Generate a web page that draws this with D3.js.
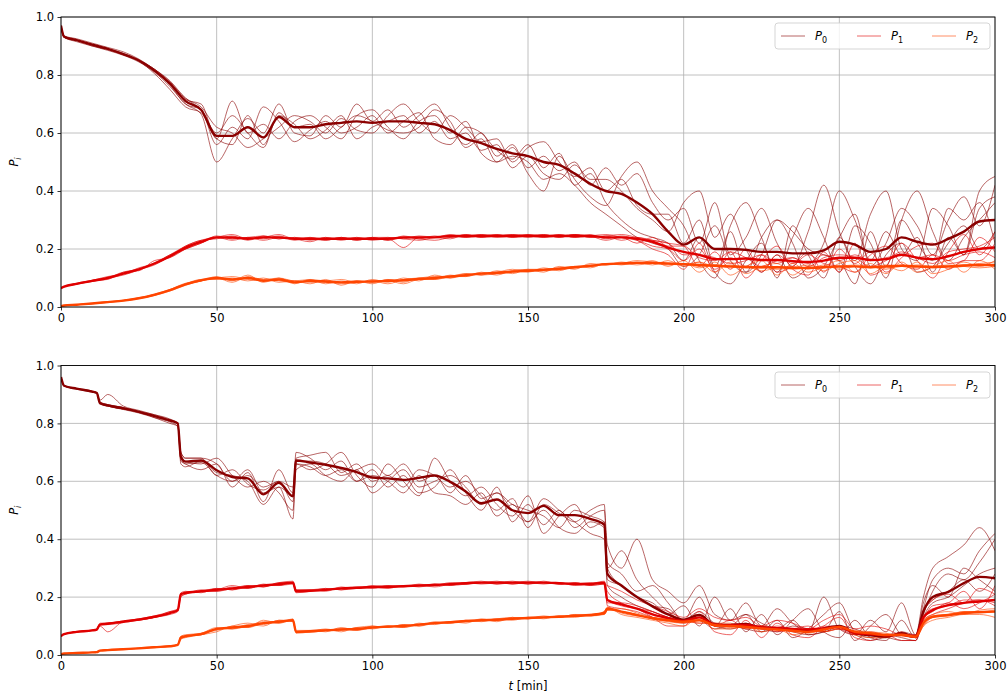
<!DOCTYPE html>
<html><head><meta charset="utf-8">
<script src="https://cdn.jsdelivr.net/npm/d3@7"></script>
<style>body{margin:0;background:#fff}svg{display:block}text{font-family:"DejaVu Sans",sans-serif}</style>
</head><body><svg id="c" width="1007" height="694"></svg>
<script>
// ---------- DATA ----------
const xTicks = [0, 50, 100, 150, 200, 250, 300];
const yTicks = [0.0, 0.2, 0.4, 0.6, 0.8, 1.0];
const seriesNames = ["P0", "P1", "P2"];

const tTop = [0,1,5,10,15,20,25,30,35,40, 45,50,55,60,65,70,75,80,85,90, 95,100,105,110,115,120,125,130,135,140,
  145,150,155,160,165,170,175,180,185,190, 195,200,205,210,215,220,225,230,235,240, 245,250,255,260,265,270,275,280,285,290, 295,300];
const tBot = [0,1,5,10,11.5,12.5,15,20,25,30, 35,37.5,38.5,40,45,50,55,60,65,70, 74.5,75.5,80,85,90,95,100,105,110,115,
  120,125,130,135,140,145,150,155,160,165, 170,174.5,175.5,180,185,190,195,200,205,210, 215,220,225,230,235,240,245,250,255,260,
  265,270,274.5,277,280,285,290,295,300];

// top panel, P0
const topP0Mean = [.97,.932,.92,.905,.89,.872,.85,.815,.77,.71, .68,.59,.59,.62,.585,.655,.62,.62,.63,.635,
  .64,.635,.64,.64,.635,.63,.61,.58,.565,.545, .53,.52,.50,.49,.46,.425,.40,.39,.36,.32,
  .26,.215,.24,.20,.20,.197,.19,.19,.185,.185, .195,.225,.215,.19,.20,.24,.225,.215,.235,.26, .295,.30];
const topP0Runs = [
 [.97,.93,.915,.90,.885,.868,.845,.81,.76,.70, .665,.50,.58,.65,.60,.70,.60,.59,.66,.62, .70,.64,.68,.62,.66,.70,.62,.56,.60,.52,
  .56,.48,.52,.47,.50,.42,.48,.42,.46,.36, .30,.34,.22,.36,.18,.24,.34,.22,.14,.26, .42,.26,.16,.32,.40,.20,.16,.34,.28,.18, .40,.45],
 [.97,.935,.925,.91,.895,.88,.855,.82,.78,.72, .69,.62,.60,.55,.58,.62,.66,.64,.60,.65, .61,.60,.66,.70,.64,.60,.66,.62,.57,.58,
  .50,.55,.57,.50,.45,.48,.40,.44,.35,.32, .32,.22,.30,.14,.26,.12,.18,.30,.22,.10, .14,.24,.32,.14,.22,.34,.28,.18,.30,.38, .28,.42],
 [.97,.93,.92,.905,.89,.87,.85,.82,.775,.715, .70,.58,.71,.60,.63,.58,.64,.66,.62,.58, .66,.68,.62,.58,.64,.66,.60,.64,.53,.50,
  .55,.46,.40,.52,.44,.38,.35,.45,.50,.40, .34,.28,.16,.10,.28,.36,.24,.12,.24,.34, .24,.12,.28,.22,.10,.30,.40,.26,.16,.24, .30,.36],
 [.97,.93,.92,.90,.89,.875,.85,.815,.765,.70, .68,.56,.62,.58,.69,.64,.57,.61,.64,.60, .62,.66,.60,.64,.67,.58,.56,.62,.60,.54,
  .51,.56,.48,.53,.42,.46,.36,.30,.26,.24, .22,.16,.24,.12,.08,.16,.22,.10,.28,.18, .10,.24,.14,.08,.18,.22,.12,.14,.22,.28, .20,.26],
 [.97,.93,.92,.905,.89,.872,.848,.805,.75,.69, .67,.58,.56,.66,.56,.66,.63,.58,.61,.66, .58,.62,.64,.66,.60,.64,.58,.60,.54,.56,
  .48,.52,.46,.44,.49,.44,.44,.40,.34,.30, .26,.36,.40,.24,.32,.20,.12,.18,.10,.14, .22,.40,.30,.16,.26,.18,.24,.12,.24,.18, .34,.38],
 [.97,.935,.92,.905,.89,.87,.85,.82,.775,.72, .68,.60,.66,.60,.55,.67,.62,.63,.58,.62, .66,.64,.61,.60,.62,.68,.64,.55,.58,.50,
  .52,.50,.44,.46,.42,.36,.32,.28,.24,.22, .20,.14,.18,.28,.16,.12,.24,.30,.26,.20, .18,.16,.08,.26,.14,.30,.22,.16,.34,.30, .36,.22]
];
// top panel, P1
const topP1Mean = [.065,.07,.08,.09,.10,.115,.13,.15,.175,.205, .225,.24,.24,.235,.24,.24,.235,.235,.235,.235,
  .235,.235,.235,.24,.24,.24,.245,.245,.245,.245, .245,.245,.245,.245,.245,.245,.24,.24,.235,.225,
  .205,.19,.18,.165,.165,.167,.162,.162,.158,.155, .16,.17,.17,.162,.165,.18,.17,.165,.175,.19, .20,.205];
const topP1Runs = [
 [.065,.07,.08,.088,.10,.115,.13,.148,.172,.20, .22,.245,.235,.24,.235,.245,.23,.24,.23,.24, .23,.24,.23,.245,.235,.245,.24,.25,.24,.25,
  .24,.25,.24,.25,.24,.25,.235,.245,.23,.20, .18,.13,.22,.12,.19,.10,.16,.21,.13,.11, .19,.12,.22,.11,.14,.22,.16,.10,.19,.25, .18,.26],
 [.065,.07,.082,.092,.10,.11,.128,.152,.18,.21, .23,.235,.245,.23,.245,.235,.24,.23,.24,.23, .24,.23,.235,.205,.24,.24,.25,.24,.25,.245,
  .25,.24,.25,.24,.25,.24,.245,.23,.24,.23, .22,.21,.14,.19,.13,.20,.12,.18,.15,.19, .12,.20,.15,.19,.12,.17,.21,.22,.15,.16, .24,.19],
 [.065,.07,.078,.09,.10,.12,.125,.16,.17,.20, .225,.24,.25,.235,.24,.25,.235,.24,.235,.24, .235,.24,.23,.24,.235,.23,.24,.245,.25,.24,
  .245,.25,.245,.25,.24,.245,.25,.24,.23,.21, .20,.16,.20,.13,.17,.14,.18,.12,.14,.18, .15,.14,.12,.18,.21,.15,.13,.18,.13,.16, .16,.22],
 [.065,.07,.08,.09,.095,.12,.13,.145,.175,.21, .23,.24,.23,.24,.23,.24,.235,.225,.24,.235, .24,.235,.24,.235,.23,.24,.245,.24,.245,.25,
  .24,.245,.25,.24,.25,.245,.23,.24,.22,.24, .21,.21,.17,.16,.19,.17,.14,.16,.17,.14, .17,.18,.17,.14,.16,.19,.17,.15,.19,.20, .21,.24],
 [.065,.07,.08,.092,.105,.115,.135,.15,.18,.20, .22,.24,.235,.24,.245,.235,.24,.235,.23,.24, .23,.24,.24,.235,.245,.24,.235,.25,.24,.245,
  .25,.245,.24,.245,.25,.24,.245,.25,.24,.23, .22,.18,.18,.17,.15,.16,.18,.15,.17,.15, .18,.16,.18,.16,.17,.18,.17,.18,.16,.18, .19,.17]
];
// top panel, P2
const topP2Mean = [.003,.005,.008,.012,.017,.022,.03,.042,.058,.078, .092,.10,.095,.10,.09,.095,.085,.09,.088,.085,
  .087,.088,.09,.092,.097,.10,.105,.11,.115,.118, .122,.125,.128,.132,.137,.142,.148,.15,.152,.152,
  .15,.148,.145,.142,.14,.138,.137,.137,.135,.135, .137,.14,.14,.137,.14,.142,.14,.138,.14,.143, .145,.145];
const topP2Runs = [
 [.003,.005,.008,.012,.017,.022,.03,.04,.055,.075, .09,.105,.09,.11,.085,.10,.08,.095,.08,.09, .08,.095,.085,.10,.09,.11,.10,.115,.11,.125,
  .115,.13,.12,.14,.13,.15,.145,.155,.15,.16, .14,.16,.12,.155,.11,.14,.16,.11,.15,.12, .14,.16,.12,.15,.115,.155,.12,.14,.16,.12, .16,.13],
 [.003,.005,.008,.013,.018,.023,.032,.045,.06,.08, .095,.095,.10,.09,.10,.085,.09,.08,.095,.075, .09,.08,.095,.085,.10,.095,.11,.105,.12,.11,
  .125,.12,.135,.125,.14,.135,.15,.145,.155,.145, .16,.14,.155,.12,.155,.115,.14,.15,.11,.14, .125,.15,.16,.115,.14,.125,.155,.115,.13,.155, .14,.16],
 [.003,.005,.008,.012,.016,.021,.029,.04,.06,.082, .09,.10,.085,.105,.095,.10,.09,.095,.09,.095, .085,.09,.08,.095,.10,.105,.10,.11,.115,.12,
  .13,.125,.13,.135,.14,.14,.15,.15,.145,.15, .145,.15,.135,.145,.135,.14,.125,.135,.14,.13, .145,.13,.14,.135,.145,.14,.135,.14,.145,.14, .135,.14],
 [.003,.005,.008,.012,.017,.023,.031,.043,.058,.078, .095,.10,.105,.095,.09,.095,.09,.085,.085,.08, .085,.09,.09,.08,.095,.095,.105,.115,.11,.115,
  .12,.125,.125,.13,.135,.145,.145,.15,.16,.155, .15,.145,.155,.14,.145,.135,.14,.13,.135,.145, .135,.14,.145,.14,.13,.145,.14,.135,.14,.145, .15,.155],
 [.003,.005,.008,.011,.016,.022,.03,.043,.057,.077, .09,.10,.095,.10,.095,.09,.085,.09,.09,.085, .09,.085,.095,.09,.095,.10,.105,.105,.115,.115,
  .125,.13,.13,.13,.14,.14,.15,.15,.15,.155, .15,.15,.14,.145,.14,.14,.135,.14,.13,.135, .14,.135,.14,.14,.135,.14,.145,.14,.135,.14, .145,.14]
];

// bottom panel, P0
const botP0Mean = [.96,.93,.92,.91,.905,.87,.862,.852,.84,.825, .81,.80,.685,.668,.672,.638,.615,.61,.555,.595,
  .548,.672,.665,.657,.646,.632,.613,.61,.605,.612, .62,.598,.565,.524,.537,.50,.49,.515,.483,.483,
  .47,.45,.28,.24,.20,.168,.14,.122,.138,.105, .104,.107,.094,.093,.087,.082,.092,.10,.076,.068,
  .064,.075,.063,.15,.20,.218,.248,.27,.265];
const botP0Runs = [
 [.96,.93,.92,.91,.905,.88,.90,.86,.845,.83, .815,.80,.67,.66,.64,.66,.58,.63,.53,.64, .56,.70,.68,.64,.67,.60,.64,.58,.62,.56,
  .58,.64,.56,.50,.58,.46,.52,.45,.50,.44, .48,.50,.38,.30,.40,.26,.22,.18,.24,.14, .12,.18,.10,.16,.11,.08,.20,.09,.07,.12,
  .08,.18,.07,.20,.30,.34,.38,.44,.36],
 [.96,.93,.92,.91,.905,.868,.86,.85,.84,.82, .80,.79,.70,.68,.68,.62,.64,.59,.57,.60, .53,.68,.69,.70,.63,.66,.60,.62,.58,.64,
  .62,.58,.60,.55,.50,.54,.44,.52,.49,.46, .50,.52,.30,.24,.20,.18,.14,.17,.10,.20, .12,.14,.08,.12,.06,.09,.14,.18,.08,.06,
  .07,.06,.05,.14,.22,.28,.26,.32,.40],
 [.96,.93,.92,.912,.906,.872,.865,.855,.838,.825, .81,.80,.69,.67,.66,.68,.62,.58,.60,.56, .50,.66,.64,.66,.70,.62,.58,.66,.60,.55,
  .68,.60,.55,.58,.52,.48,.55,.42,.48,.52, .44,.46,.32,.28,.22,.24,.18,.12,.20,.10, .16,.08,.14,.07,.12,.16,.08,.06,.12,.06,
  .05,.12,.06,.16,.26,.30,.28,.36,.42],
 [.96,.93,.918,.908,.904,.87,.86,.848,.836,.82, .805,.79,.68,.66,.665,.62,.60,.64,.56,.58, .55,.66,.65,.62,.64,.60,.62,.60,.56,.62,
  .56,.55,.52,.56,.48,.52,.46,.50,.44,.42, .46,.44,.30,.36,.26,.20,.15,.12,.15,.11, .10,.14,.11,.09,.12,.07,.08,.15,.05,.10,
  .14,.07,.06,.18,.24,.20,.30,.26,.22],
 [.96,.93,.92,.91,.906,.875,.865,.855,.842,.83, .812,.80,.66,.65,.67,.63,.62,.60,.52,.58, .47,.64,.66,.62,.60,.64,.56,.60,.64,.58,
  .60,.62,.58,.52,.56,.50,.46,.54,.50,.46, .42,.40,.24,.20,.17,.15,.13,.12,.12,.09, .10,.09,.08,.09,.08,.07,.08,.09,.07,.05,
  .06,.05,.05,.13,.18,.20,.24,.28,.30],
 [.96,.93,.92,.91,.904,.87,.86,.85,.84,.826, .81,.80,.70,.68,.68,.66,.60,.62,.58,.60, .58,.67,.67,.66,.62,.64,.66,.62,.66,.60,
  .62,.56,.62,.54,.56,.52,.50,.48,.44,.50, .48,.46,.26,.24,.20,.17,.16,.12,.13,.10, .09,.10,.09,.08,.10,.09,.08,.10,.09,.07,
  .06,.08,.07,.15,.19,.22,.26,.22,.28]
];
// bottom panel, P1
const botP1Mean = [.065,.072,.08,.085,.088,.105,.108,.115,.122,.132, .145,.155,.21,.215,.22,.225,.23,.235,.24,.245,
  .25,.22,.222,.225,.23,.232,.235,.235,.238,.24, .242,.245,.248,.25,.25,.25,.25,.25,.248,.245,
  .245,.25,.19,.175,.16,.14,.127,.118,.13,.105, .103,.104,.095,.093,.09,.088,.092,.097,.076,.072,
  .068,.07,.063,.13,.155,.172,.18,.185,.19];
const botP1Runs = [
 [.065,.072,.08,.085,.088,.10,.08,.115,.12,.13, .14,.15,.20,.21,.22,.225,.24,.23,.245,.24, .25,.215,.22,.23,.225,.235,.23,.24,.235,.245,
  .24,.25,.245,.25,.255,.245,.25,.245,.25,.24, .245,.255,.22,.18,.16,.13,.10,.10,.15,.08, .07,.12,.06,.11,.07,.06,.10,.13,.06,.05,
  .07,.05,.05,.12,.17,.18,.22,.16,.24],
 [.065,.072,.08,.085,.09,.11,.11,.118,.125,.135, .15,.16,.215,.22,.215,.23,.225,.24,.235,.25, .255,.225,.225,.22,.235,.23,.24,.235,.24,.235,
  .245,.24,.25,.245,.25,.255,.245,.255,.245,.25, .24,.245,.24,.22,.19,.17,.15,.13,.16,.13, .12,.13,.10,.12,.11,.09,.12,.14,.09,.10,
  .09,.07,.07,.15,.19,.21,.18,.23,.21],
 [.065,.072,.08,.086,.088,.105,.105,.112,.12,.13, .145,.155,.205,.21,.225,.22,.235,.23,.24,.24, .245,.22,.22,.225,.23,.235,.235,.23,.24,.24,
  .235,.245,.25,.255,.245,.25,.255,.25,.25,.245, .25,.25,.17,.16,.15,.13,.12,.11,.12,.10, .12,.09,.10,.08,.09,.10,.08,.09,.08,.07,
  .06,.08,.06,.12,.14,.16,.18,.19,.17],
 [.065,.072,.08,.084,.087,.105,.11,.115,.125,.13, .145,.155,.21,.215,.22,.22,.23,.24,.235,.25, .25,.225,.225,.23,.225,.23,.235,.24,.235,.24,
  .245,.24,.245,.25,.245,.25,.245,.25,.245,.25, .24,.245,.18,.18,.17,.15,.13,.12,.11,.11, .10,.11,.09,.10,.09,.08,.10,.09,.07,.08,
  .07,.07,.06,.13,.15,.18,.16,.18,.21],
 [.065,.072,.08,.085,.089,.105,.11,.116,.122,.13, .15,.155,.21,.215,.22,.23,.225,.235,.24,.245, .25,.22,.22,.225,.23,.23,.235,.235,.24,.24,
  .24,.245,.245,.25,.25,.245,.25,.25,.25,.245, .245,.25,.19,.17,.16,.15,.13,.12,.13,.10, .10,.10,.10,.09,.09,.09,.09,.10,.08,.07,
  .07,.07,.06,.13,.16,.17,.19,.19,.18]
];
// bottom panel, P2
const botP2Mean = [.003,.005,.007,.009,.01,.015,.017,.02,.023,.027, .03,.035,.06,.065,.072,.09,.095,.10,.11,.115,
  .12,.08,.082,.085,.088,.09,.095,.098,.10,.105, .11,.113,.117,.12,.122,.125,.128,.13,.132,.135,
  .138,.145,.16,.15,.138,.127,.12,.115,.12,.103, .10,.097,.092,.088,.084,.08,.088,.097,.08,.075,
  .069,.07,.063,.11,.132,.138,.145,.148,.15];
const botP2Runs = [
 [.003,.005,.007,.009,.01,.015,.017,.02,.023,.027, .03,.035,.055,.06,.07,.08,.10,.095,.12,.11, .125,.075,.08,.09,.08,.095,.09,.10,.095,.11,
  .105,.115,.11,.125,.115,.13,.125,.135,.13,.14, .135,.15,.165,.14,.13,.12,.11,.10,.13,.09, .09,.10,.08,.09,.07,.08,.09,.10,.07,.06,
  .06,.07,.06,.10,.12,.13,.14,.14,.13],
 [.003,.005,.007,.009,.011,.016,.018,.021,.024,.028, .032,.037,.065,.07,.075,.095,.09,.105,.10,.12, .115,.085,.085,.08,.095,.085,.10,.095,.105,.10,
  .115,.11,.12,.115,.125,.12,.13,.125,.135,.13, .14,.14,.155,.16,.145,.13,.125,.12,.11,.11, .11,.09,.10,.085,.09,.085,.08,.09,.085,.08,
  .075,.065,.065,.12,.14,.15,.14,.155,.16],
 [.003,.005,.007,.009,.01,.015,.017,.02,.023,.027, .03,.034,.06,.062,.075,.085,.10,.11,.105,.12, .12,.08,.078,.085,.09,.085,.095,.10,.095,.105,
  .11,.115,.115,.12,.12,.125,.13,.13,.135,.135, .14,.145,.16,.15,.14,.125,.115,.11,.12,.10, .095,.10,.09,.09,.08,.075,.09,.095,.08,.07,
  .065,.075,.06,.10,.13,.135,.15,.145,.15],
 [.003,.005,.007,.009,.01,.015,.017,.02,.023,.027, .03,.036,.058,.065,.07,.09,.09,.10,.115,.11, .12,.08,.085,.088,.085,.095,.10,.095,.105,.10,
  .11,.115,.12,.12,.125,.13,.125,.13,.13,.14, .14,.15,.165,.145,.135,.13,.12,.12,.125,.105, .10,.095,.095,.09,.085,.08,.085,.10,.08,.075,
  .07,.07,.065,.115,.135,.14,.15,.15,.155],
 [.003,.005,.007,.009,.01,.015,.017,.02,.023,.027, .03,.035,.06,.065,.07,.09,.095,.095,.11,.115, .12,.08,.082,.085,.09,.09,.095,.10,.10,.105,
  .11,.11,.12,.12,.12,.125,.13,.13,.13,.135, .135,.14,.155,.15,.14,.125,.12,.115,.12,.10, .10,.10,.09,.09,.085,.08,.09,.095,.08,.075,
  .07,.07,.065,.11,.13,.14,.145,.15,.15]
];

// ---------- DRAW ----------
const colors = ["#8b0000", "#e00000", "#ff4500"];
const svg = d3.select("#c");
const x = d3.scaleLinear().domain([0, 300]).range([61, 995]);

const panels = [
  {top: 17, bottom: 307, t: tTop, series: [[topP0Mean, topP0Runs], [topP1Mean, topP1Runs], [topP2Mean, topP2Runs]], legendY: 23, xlabel: false},
  {top: 365.5, bottom: 655, t: tBot, series: [[botP0Mean, botP0Runs], [botP1Mean, botP1Runs], [botP2Mean, botP2Runs]], legendY: 372, xlabel: true}
];

panels.forEach((p, pi) => {
  const y = d3.scaleLinear().domain([0, 1]).range([p.bottom, p.top]);
  const g = svg.append("g");
  const clipId = "clip" + pi;
  svg.append("clipPath").attr("id", clipId).append("rect")
    .attr("x", 61).attr("y", p.top).attr("width", 934).attr("height", p.bottom - p.top);

  // grid
  g.append("g").selectAll("line").data(xTicks).join("line")
    .attr("x1", d => x(d)).attr("x2", d => x(d)).attr("y1", p.top).attr("y2", p.bottom)
    .attr("stroke", "#b0b0b0").attr("stroke-width", 0.8);
  g.append("g").selectAll("line").data(yTicks).join("line")
    .attr("x1", 61).attr("x2", 995).attr("y1", d => y(d)).attr("y2", d => y(d))
    .attr("stroke", "#b0b0b0").attr("stroke-width", 0.8);

  const line = d3.line().x((d, i) => x(p.t[i])).y(d => y(d)).curve(d3.curveMonotoneX);
  const lg = g.append("g").attr("clip-path", `url(#${clipId})`);
  p.series.forEach(([mean, runs], si) => {
    runs.forEach(r => {
      lg.append("path").attr("d", line(r)).attr("fill", "none")
        .attr("stroke", colors[si]).attr("stroke-opacity", 0.6).attr("stroke-width", 1);
    });
  });
  p.series.forEach(([mean, runs], si) => {
    lg.append("path").attr("d", line(mean)).attr("fill", "none")
      .attr("stroke", colors[si]).attr("stroke-width", 2.4).attr("stroke-linejoin", "round");
  });

  // axes
  const xa = g.append("g").attr("transform", `translate(0,${p.bottom})`)
    .call(d3.axisBottom(x).tickValues(xTicks).tickFormat(d3.format("d")).tickSize(3.5).tickPadding(3.5));
  const ya = g.append("g").attr("transform", `translate(61,0)`)
    .call(d3.axisLeft(y).tickValues(yTicks).tickFormat(d3.format(".1f")).tickSize(3.5).tickPadding(3.5));
  [xa, ya].forEach(a => {
    a.select(".domain").remove();
    a.selectAll("text").attr("font-size", 11.5).attr("fill", "#000").attr("font-family", "DejaVu Sans");
    a.selectAll("line").attr("stroke", "#000").attr("stroke-width", 0.8);
  });
  // frame
  g.append("rect").attr("x", 61).attr("y", p.top).attr("width", 934).attr("height", p.bottom - p.top)
    .attr("fill", "none").attr("stroke", "#000").attr("stroke-width", 0.9);

  // y label
  const yl = g.append("text").attr("transform", `translate(18,${(p.top + p.bottom) / 2}) rotate(-90)`)
    .attr("text-anchor", "middle").attr("font-size", 11.5);
  yl.append("tspan").attr("font-style", "italic").text("P");
  yl.append("tspan").attr("font-style", "italic").attr("font-size", 8).attr("dy", 3).text("i");

  // legend
  const L = g.append("g");
  L.append("rect").attr("x", 775).attr("y", p.legendY).attr("width", 215).attr("height", 26)
    .attr("rx", 3).attr("fill", "#fff").attr("fill-opacity", 0.8).attr("stroke", "#d0d0d0").attr("stroke-width", 0.9);
  const lx = [781, 857, 932];
  seriesNames.forEach((n, i) => {
    const cy = p.legendY + 13;
    L.append("line").attr("x1", lx[i]).attr("x2", lx[i] + 24).attr("y1", cy).attr("y2", cy)
      .attr("stroke", colors[i]).attr("stroke-opacity", 0.6).attr("stroke-width", 1);
    const t = L.append("text").attr("x", lx[i] + 34).attr("y", cy + 4).attr("font-size", 11.5);
    t.append("tspan").attr("font-style", "italic").text("P");
    t.append("tspan").attr("font-size", 8).attr("dy", 3).text(n.slice(1));
  });

  if (p.xlabel) {
    const xl = g.append("text").attr("x", 528).attr("y", 690).attr("text-anchor", "middle").attr("font-size", 11.5);
    xl.append("tspan").attr("font-style", "italic").text("t");
    xl.append("tspan").text(" [min]");
  }
});
</script></body></html>
